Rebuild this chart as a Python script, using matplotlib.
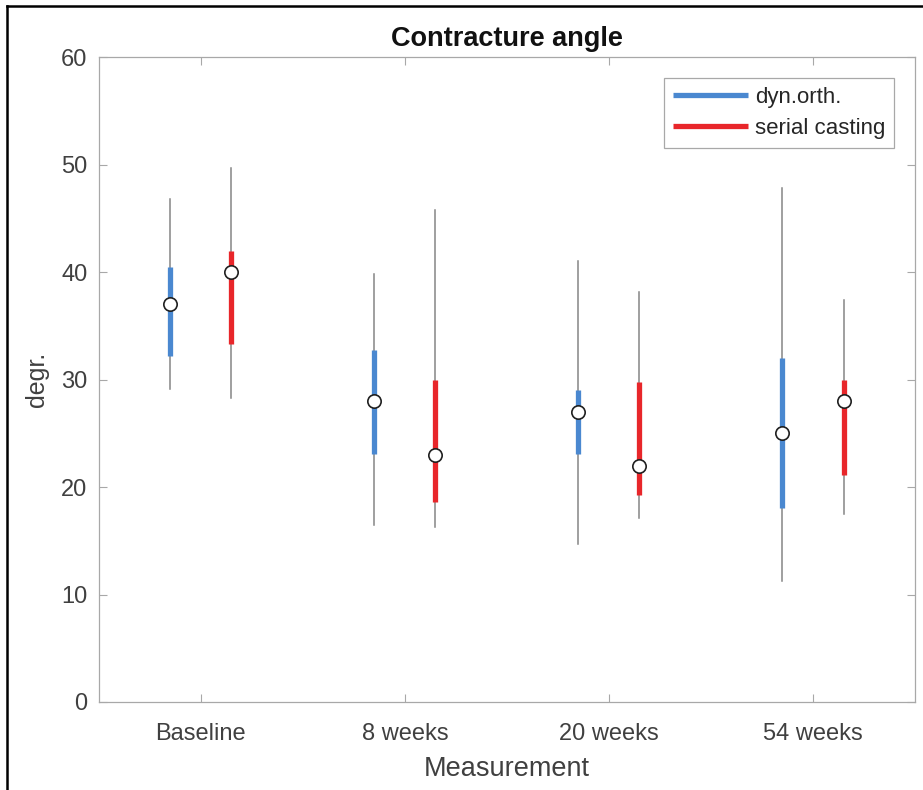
"""Contracture angle per measurement: median, IQR box and full range for the two treatment arms."""

import matplotlib

matplotlib.use("Agg")
import matplotlib.pyplot as plt
from matplotlib.lines import Line2D

plt.rcParams["font.family"] = ["Liberation Sans", "DejaVu Sans"]

measurements = ["Baseline", "8 weeks", "20 weeks", "54 weeks"]
groups = ["dyn.orth.", "serial casting"]

# per group: median, quartiles (box) and min/max (whiskers)
dyn_median = [37.0, 28.0, 27.0, 25.0]
dyn_q1 = [32.2, 23.1, 23.1, 18.1]
dyn_q3 = [40.5, 32.8, 29.0, 32.0]
dyn_min = [29.1, 16.5, 14.7, 11.3]
dyn_max = [46.8, 39.8, 41.0, 47.8]

cast_median = [40.0, 23.0, 22.0, 28.0]
cast_q1 = [33.3, 18.6, 19.3, 21.1]
cast_q3 = [42.0, 30.0, 29.8, 30.0]
cast_min = [28.3, 16.3, 17.1, 17.5]
cast_max = [49.7, 45.8, 38.2, 37.4]

colors = ["#4a88d0", "#e8262a"]
offsets = [-0.15, 0.15]
axis_grey = "#a8a8a8"
text_grey = "#404040"

fig = plt.figure(figsize=(9.23, 7.90), dpi=100)
ax = fig.add_axes([98.7 / 923, 88 / 790, (915 - 98.7) / 923, (702 - 57.3) / 790])

series = [
    (dyn_median, dyn_q1, dyn_q3, dyn_min, dyn_max),
    (cast_median, cast_q1, cast_q3, cast_min, cast_max),
]
for (med, q1, q3, lo, hi), color, off in zip(series, colors, offsets):
    for i in range(len(measurements)):
        x = i + 1 + off
        ax.plot([x, x], [lo[i], hi[i]], color="#858585", lw=1.1, zorder=2)
        ax.plot([x, x], [q1[i], q3[i]], color=color, lw=3.8, solid_capstyle="butt", zorder=3)
        ax.plot(x, med[i], "o", ms=9.6, mfc="white", mec="#202020", mew=1.2, zorder=4)

ax.set_xlim(0.5, 4.5)
ax.set_ylim(0, 60)
ax.set_xticks(range(1, len(measurements) + 1))
ax.set_xticklabels(measurements)
ax.set_yticks(range(0, 61, 10))
ax.tick_params(direction="in", length=5.8, width=0.8, color=axis_grey, labelcolor=text_grey,
               labelsize=17, top=True, right=True, pad=8)
ax.tick_params(axis="x", pad=15)
for spine in ax.spines.values():
    spine.set_color(axis_grey)
    spine.set_linewidth(0.9)

ax.set_title("Contracture angle", fontsize=19.5, fontweight="bold", color="#111111", pad=8)
ax.set_xlabel("Measurement", fontsize=19.5, color=text_grey, labelpad=8)
ax.set_ylabel("degr.", fontsize=18, color=text_grey, labelpad=9)

handles = [Line2D([], [], color=c, lw=3.8, solid_capstyle="butt") for c in colors]
leg = ax.legend(handles, groups, loc="upper right", bbox_to_anchor=(0.9747, 0.9674), borderaxespad=0,
                fontsize=16, handlelength=3.4, handletextpad=0.3, labelspacing=0.45, borderpad=0.4,
                fancybox=False, framealpha=1, edgecolor=axis_grey)
leg.get_frame().set_linewidth(0.9)
for t in leg.get_texts():
    t.set_color("#262626")

# black frame on the left and top edges of the picture
fig.add_artist(Line2D([7 / 923, 7 / 923], [0, 1 - 6 / 790], color="black", lw=1.8, transform=fig.transFigure))
fig.add_artist(Line2D([7 / 923, 1], [1 - 6 / 790, 1 - 6 / 790], color="black", lw=1.8, transform=fig.transFigure))

fig.savefig("out.png", dpi=100)
